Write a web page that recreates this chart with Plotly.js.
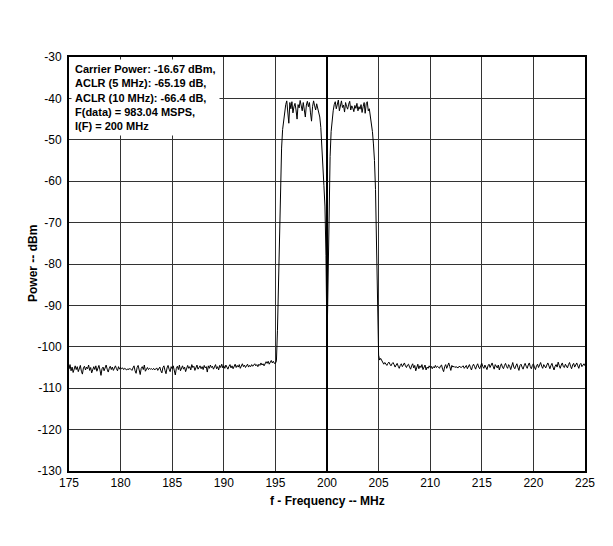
<!DOCTYPE html>
<html>
<head>
<meta charset="utf-8">
<script src="https://cdn.plot.ly/plotly-3.0.1.min.js"></script>
<style>html,body{margin:0;padding:0;background:#fff;}#chart{width:613px;height:546px;}</style>
</head>
<body>
<div id="chart"></div>
<script>
// Spectrum sweep segments (start frequency MHz, step MHz, power dBm)
var leftNoiseStart = 175.0, leftNoiseStep = 0.1;
var leftNoise = [
 -105.4,-104.3,-105.8,-104.9,-106.2,-105.0,-104.6,-105.5,-104.8,-106.0,
 -105.2,-104.5,-105.9,-106.6,-105.1,-104.7,-105.6,-104.9,-105.3,-104.4,
 -105.7,-105.0,-106.3,-105.2,-104.8,-105.5,-104.6,-105.9,-105.1,-104.5,
 -105.6,-106.9,-105.3,-104.9,-105.8,-105.0,-104.4,-105.4,-106.1,-105.2,
 -104.7,-105.5,-104.9,-105.7,-105.1,-104.6,-105.3,-105.8,-104.8,-105.4,
 -105.0,-105.3,-105.1,-105.5,-105.2,-105.4,-105.6,-105.3,-105.5,-105.2,
 -105.4,-105.7,-105.1,-104.6,-105.8,-106.4,-105.0,-104.5,-105.6,-106.7,
 -105.2,-104.8,-105.5,-104.4,-105.9,-105.3,-105.0,-105.5,-105.2,-105.4,
 -105.3,-105.5,-105.2,-105.6,-105.4,-105.1,-105.7,-105.3,-104.9,-105.8,
 -106.3,-105.0,-104.6,-105.7,-106.5,-105.1,-104.5,-105.4,-106.0,-104.8,
 -105.3,-104.6,-105.9,-106.8,-105.2,-104.7,-105.5,-104.4,-105.8,-105.1,
 -104.6,-105.4,-104.9,-106.0,-105.3,-104.5,-105.2,-104.8,-105.6,-104.3,
 -105.0,-104.7,-105.7,-104.9,-104.4,-105.4,-105.0,-104.6,-105.3,-104.8,
 -105.5,-104.5,-105.1,-104.8,-106.1,-104.6,-105.2,-104.4,-105.0,-104.7,
 -105.4,-104.9,-104.3,-105.3,-104.8,-105.6,-104.5,-105.0,-104.2,-105.1,
 -104.6,-105.2,-104.4,-104.9,-105.4,-104.7,-104.3,-105.1,-104.6,-105.3,
 -104.8,-104.2,-105.0,-104.5,-104.9,-104.3,-105.2,-104.6,-104.1,-104.8,
 -104.4,-105.0,-104.6,-104.2,-104.9,-104.5,-104.8,-104.3,-104.7,-104.4,
 -104.1,-104.6,-104.3,-104.8,-104.2,-104.5,-103.9,-104.4,-104.1,-104.6,
 -104.1,-103.6,-104.0,-103.5,-104.2,-103.8,-103.3,-103.9,-103.5,-104.0,
 -104.0];

var leftBandStart = 195.0, leftBandStep = 0.1;
var leftBand = [
 -104.0,-103.4,-96,-85,-72,-60,-52,-47.5,-45,-43.5,
 -41.5,-40.6,-43.0,-46.0,-41.0,-42.5,-40.8,-43.5,-42.0,-41.2,
 -42.8,-45.0,-41.5,-42.3,-40.5,-41.8,-43.0,-41.0,-42.6,-44.5,
 -41.6,-40.7,-42.0,-41.0,-43.5,-45.5,-42.0,-40.6,-41.8,-42.8,
 -41.3,-42.5,-43.5,-44.5,-47.0,
 -51,-56,-61,-66,-78,-100];

var rightBandStart = 200.0, rightBandStep = 0.1;
var rightBand = [
 -100,-80,-64,-54,-48,-45,-43,-41.5,
 -40.8,-42.5,-41.0,-40.4,-43.0,-41.5,-40.6,-42.2,-41.6,-43.3,
 -41.0,-42.0,-42.6,-41.4,-40.7,-42.8,-41.8,-42.3,-43.2,-41.7,
 -42.4,-41.2,-43.0,-42.0,-42.6,-41.5,-43.4,-42.0,-41.0,-43.6,
 -41.3,-40.8,-43.0,-42.5,
 -44,-45.5,-48,-51,-55,-62,-78,-96,-102,-103.2,-102.8];

var rightNoiseStart = 205.2, rightNoiseStep = 0.1;
var rightNoise = [
 -102.8,-103.3,-103.9,-104.2,-103.8,-104.1,-104.5,-104.0,-103.7,-104.2,
 -104.6,-104.1,-103.8,-104.3,-104.9,-104.4,-104.0,-104.7,-105.2,-104.5,
 -104.1,-104.8,-104.3,-103.9,-104.6,-105.0,-104.4,-104.2,-104.9,-105.4,
 -104.6,-104.1,-105.1,-104.5,-105.8,-104.7,-104.2,-105.3,-104.6,-105.0,
 -104.3,-105.5,-104.8,-104.4,-105.6,-104.9,-105.2,-104.6,-105.0,-104.7,
 -105.3,-104.8,-105.1,-104.5,-105.0,-104.7,-104.9,-105.2,-104.6,-104.4,
 -105.4,-106.0,-104.8,-104.3,-105.2,-104.6,-103.9,-104.8,-105.7,-104.5,
 -104.9,-104.7,-105.0,-104.8,-104.9,-105.1,-104.7,-104.9,-105.0,-104.8,
 -104.6,-105.2,-104.8,-104.5,-105.3,-104.9,-104.3,-105.0,-105.6,-104.7,
 -104.2,-104.8,-105.4,-104.6,-104.1,-104.9,-105.3,-104.5,-104.0,-104.8,
 -105.2,-104.4,-104.9,-105.5,-104.6,-104.2,-105.0,-104.5,-103.9,-104.7,
 -105.4,-104.3,-104.8,-105.1,-104.4,-105.6,-104.7,-104.1,-104.9,-105.3,
 -104.5,-104.0,-104.8,-105.2,-104.3,-104.7,-105.5,-104.4,-103.8,-104.9,
 -105.3,-104.6,-104.1,-105.0,-105.7,-104.5,-104.2,-104.9,-105.4,-104.6,
 -104.0,-104.7,-105.2,-104.4,-103.9,-104.8,-105.3,-104.5,-104.1,-104.9,
 -105.5,-104.6,-104.2,-105.0,-104.4,-103.8,-104.7,-105.2,-104.3,-104.8,
 -105.1,-104.4,-103.9,-104.6,-105.3,-104.5,-104.0,-104.9,-105.6,-104.7,
 -104.3,-104.9,-103.7,-104.5,-105.2,-104.4,-103.9,-104.8,-105.0,-104.2,
 -104.6,-105.1,-104.3,-103.8,-104.7,-105.3,-104.4,-104.0,-104.9,-104.5,
 -103.9,-104.6,-105.2,-104.3,-104.0,-104.8,-104.4,-104.1,-104.6];

var xTickVals = [175,180,185,190,195,200,205,210,215,220,225];
var xTickText = ['175','180','185','190','195','200','205','210','215','220','225'];
var yTickVals = [-30,-40,-50,-60,-70,-80,-90,-100,-110,-120,-130];
var yTickText = ['-30','-40','-50','-60','-70','-80','-90','-100','-110','-120','-130'];
var xTitle = 'f - Frequency -- MHz';
var yTitle = 'Power -- dBm';
var infoLines = ['Carrier Power: -16.67 dBm,','ACLR (5 MHz): -65.19 dB,','ACLR (10 MHz): -66.4 dB,','F(data) = 983.04 MSPS,','I(F) = 200 MHz'];

var segs = [
  [leftNoiseStart, leftNoiseStep, leftNoise],
  [leftBandStart, leftBandStep, leftBand],
  [rightBandStart, rightBandStep, rightBand],
  [rightNoiseStart, rightNoiseStep, rightNoise]
];
var traces = segs.map(function(s){
  return {type:'scatter', mode:'lines', x0:s[0], dx:s[1], y:s[2],
    line:{color:'#000', width:1}, hoverinfo:'skip', showlegend:false};
});

var font = 'Liberation Sans, Arial, sans-serif';
var layout = {
  width:613, height:546,
  margin:{l:69, r:28, t:57, b:75, pad:0},
  paper_bgcolor:'#fff', plot_bgcolor:'#fff',
  font:{family:font, size:12, color:'#000'},
  showlegend:false,
  xaxis:{range:[175,225], tickvals:xTickVals, ticktext:xTickText, ticks:'', showgrid:true, gridcolor:'#333', gridwidth:1,
    showline:true, linecolor:'#000', linewidth:2, mirror:true, zeroline:false,
    tickfont:{family:font, size:12, color:'#000'}},
  yaxis:{range:[-130,-30], tickvals:yTickVals, ticktext:yTickText, ticks:'', showgrid:true, gridcolor:'#333', gridwidth:1,
    showline:true, linecolor:'#000', linewidth:2, mirror:true, zeroline:false, ticklabelstandoff:3,
    tickfont:{family:font, size:12, color:'#000'}},
  shapes:[{type:'line', xref:'x', yref:'paper', x0:200, x1:200, y0:0, y1:1, line:{color:'#000', width:2}, layer:'above'}],
  annotations:[
    {xref:'paper', yref:'paper', x:0.004, y:1, yshift:-2, xanchor:'left', yanchor:'top',
     text:infoLines.map(function(t){return '<b>'+t+'</b>';}).join('<br>'), align:'left', showarrow:false,
     bgcolor:'#fff', borderpad:3, font:{family:font, size:11, color:'#000'}},
    {xref:'paper', yref:'paper', x:0.5, y:0, yshift:-30, xanchor:'center', yanchor:'middle',
     text:'<b>'+xTitle+'</b>', showarrow:false, font:{family:font, size:12, color:'#000'}},
    {xref:'paper', yref:'paper', x:0, xshift:-36, y:0.5, xanchor:'center', yanchor:'middle', textangle:-90,
     text:'<b>'+yTitle+'</b>', showarrow:false, font:{family:font, size:12, color:'#000'}}
  ]
};
Plotly.newPlot('chart', traces, layout, {displayModeBar:false, staticPlot:true});
</script>
</body>
</html>
